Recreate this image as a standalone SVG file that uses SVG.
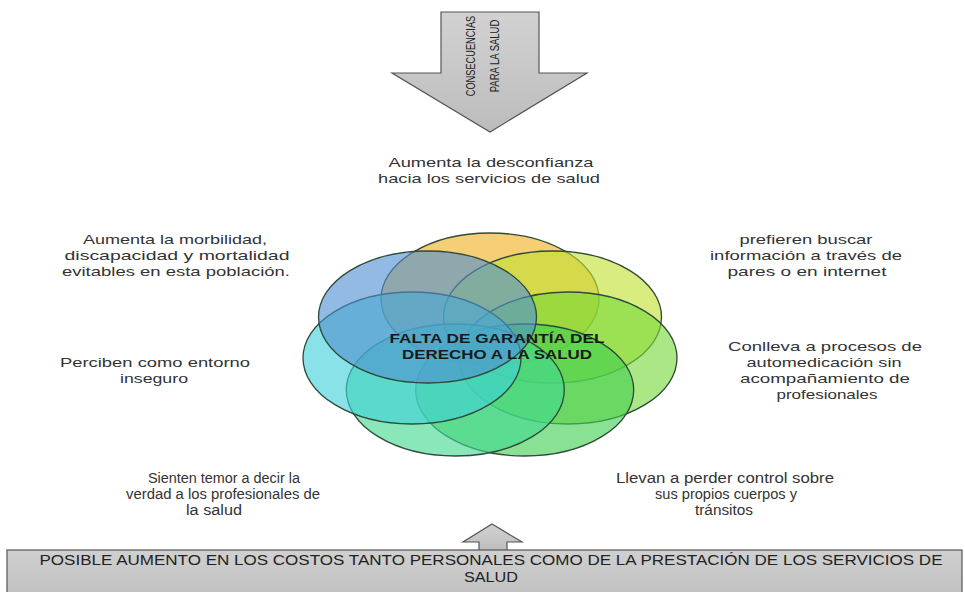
<svg xmlns="http://www.w3.org/2000/svg" width="965" height="592" viewBox="0 0 965 592">
<defs>
<linearGradient id="gArrow" x1="0" y1="0" x2="0" y2="1">
<stop offset="0" stop-color="#d2d2d2"/>
<stop offset="1" stop-color="#bcbcbc"/>
</linearGradient>
<linearGradient id="gBox" x1="0" y1="0" x2="0" y2="1">
<stop offset="0" stop-color="#d0d0d0"/>
<stop offset="1" stop-color="#c0c0c0"/>
</linearGradient>
<style>
.lbl{font-family:"Liberation Sans",Arial,sans-serif;font-size:13.5px;fill:#333;text-anchor:middle}
.lbl2{font-family:"Liberation Sans",Arial,sans-serif;font-size:14px;fill:#333;text-anchor:middle}
.ctr{font-family:"Liberation Sans",Arial,sans-serif;font-size:13px;font-weight:bold;fill:#1a1a1a;text-anchor:middle}
.nar{font-family:"Liberation Sans",Arial,sans-serif;font-size:13px;fill:#222;text-anchor:middle}
.pet{stroke:#2e4a3a;stroke-width:1.3;fill-opacity:0.62}
.shape{stroke:#555;stroke-width:1.2}
</style>
</defs>
<rect width="965" height="592" fill="#fff"/>

<g id="arrow-down">
<path class="shape" d="M441,12 L539,12 L539,73 L587,73 L490,132 L392,73 L441,73 Z" fill="url(#gArrow)"/>
<text class="nar" transform="translate(475,56) rotate(-90) scale(0.71,1)">CONSECUENCIAS</text>
<text class="nar" transform="translate(499,56) rotate(-90) scale(0.73,1)">PARA LA SALUD</text>
</g>

<g id="flower">
<ellipse class="pet" cx="490" cy="299" rx="109" ry="66" fill="#f0b020"/>
<ellipse class="pet" cx="552.5" cy="317" rx="109" ry="66" fill="#c0e030"/>
<ellipse class="pet" cx="568" cy="358" rx="109" ry="66" fill="#78d838"/>
<ellipse class="pet" cx="524.7" cy="390" rx="109" ry="66" fill="#40d050"/>
<ellipse class="pet" cx="455.3" cy="390" rx="109" ry="66" fill="#40d890"/>
<ellipse class="pet" cx="412" cy="358" rx="109" ry="66" fill="#40d0d8"/>
<ellipse class="pet" cx="427.5" cy="317" rx="109" ry="66" fill="#4f8fd0"/>
</g>

<g id="center">
<text class="ctr" x="497" y="343" textLength="215" lengthAdjust="spacingAndGlyphs">FALTA DE GARANTÍA DEL</text>
<text class="ctr" x="497" y="359" textLength="190" lengthAdjust="spacingAndGlyphs">DERECHO A LA SALUD</text>
</g>

<g id="n-top">
<text class="lbl" x="491" y="167" textLength="205" lengthAdjust="spacingAndGlyphs">Aumenta la desconfianza</text>
<text class="lbl" x="489" y="183" textLength="222" lengthAdjust="spacingAndGlyphs">hacia los servicios de salud</text>
</g>

<g id="n-upper-left">
<text class="lbl" x="175" y="244" textLength="184" lengthAdjust="spacingAndGlyphs">Aumenta la morbilidad,</text>
<text class="lbl" x="177" y="260" textLength="225" lengthAdjust="spacingAndGlyphs">discapacidad y mortalidad</text>
<text class="lbl" x="176" y="276" textLength="228" lengthAdjust="spacingAndGlyphs">evitables en esta población.</text>
</g>

<g id="n-left">
<text class="lbl" x="155" y="367" textLength="190" lengthAdjust="spacingAndGlyphs">Perciben como entorno</text>
<text class="lbl" x="154" y="383" textLength="68" lengthAdjust="spacingAndGlyphs">inseguro</text>
</g>

<g id="n-upper-right">
<text class="lbl" x="806" y="244" textLength="133" lengthAdjust="spacingAndGlyphs">prefieren buscar</text>
<text class="lbl" x="806" y="260" textLength="192" lengthAdjust="spacingAndGlyphs">información a través de</text>
<text class="lbl" x="807" y="276" textLength="159" lengthAdjust="spacingAndGlyphs">pares o en internet</text>
</g>

<g id="n-right">
<text class="lbl" x="825" y="351" textLength="194" lengthAdjust="spacingAndGlyphs">Conlleva a procesos de</text>
<text class="lbl" x="824" y="367" textLength="155" lengthAdjust="spacingAndGlyphs">automedicación sin</text>
<text class="lbl" x="825" y="383" textLength="170" lengthAdjust="spacingAndGlyphs">acompañamiento de</text>
<text class="lbl" x="827" y="399" textLength="101" lengthAdjust="spacingAndGlyphs">profesionales</text>
</g>

<g id="n-lower-left">
<text class="lbl2" x="224" y="483" textLength="152" lengthAdjust="spacingAndGlyphs">Sienten temor a decir la</text>
<text class="lbl2" x="223" y="499" textLength="194" lengthAdjust="spacingAndGlyphs">verdad a los profesionales de</text>
<text class="lbl2" x="214" y="515" textLength="56" lengthAdjust="spacingAndGlyphs">la salud</text>
</g>

<g id="n-lower-right">
<text class="lbl2" x="725" y="483" textLength="218" lengthAdjust="spacingAndGlyphs">Llevan a perder control sobre</text>
<text class="lbl2" x="726" y="499" textLength="142" lengthAdjust="spacingAndGlyphs">sus propios cuerpos y</text>
<text class="lbl2" x="724" y="515" textLength="58" lengthAdjust="spacingAndGlyphs">tránsitos</text>
</g>

<g id="connectors">
<path class="shape" d="M492,524 L522,542 L507,542 L507,551 L479,551 L479,542 L463,542 Z" fill="url(#gArrow)"/>
</g>

<g id="n-bottom">
<rect class="shape" x="7" y="550" width="955" height="48" fill="url(#gBox)"/>
<text class="nar" x="491" y="565" textLength="903" lengthAdjust="spacingAndGlyphs" style="font-size:14px">POSIBLE AUMENTO EN LOS COSTOS TANTO PERSONALES COMO DE LA PRESTACIÓN DE LOS SERVICIOS DE</text>
<text class="nar" x="491" y="582" textLength="54" lengthAdjust="spacingAndGlyphs" style="font-size:14px">SALUD</text>
</g>
</svg>
